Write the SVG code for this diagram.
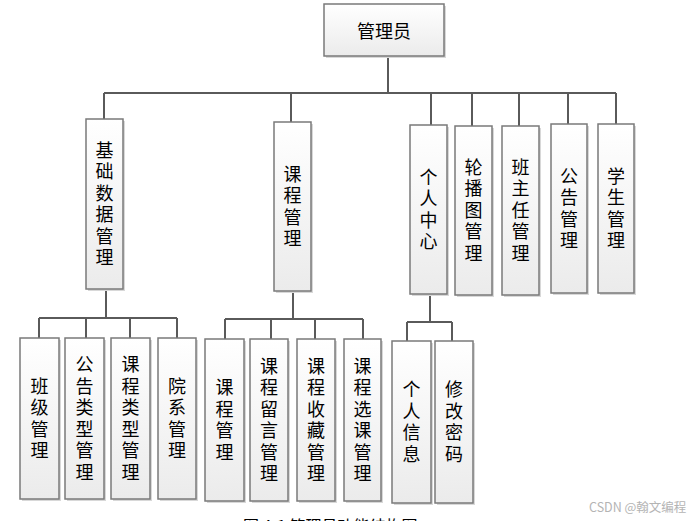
<svg xmlns="http://www.w3.org/2000/svg" width="692" height="521" viewBox="0 0 692 521">
<defs>
<linearGradient id="g" x1="0" y1="0" x2="0" y2="1">
<stop offset="0" stop-color="#ffffff"/>
<stop offset="1" stop-color="#ebebeb"/>
</linearGradient>
</defs>
<style>
.box{fill:url(#g);stroke:#7a7a7a;stroke-width:1.5}
.sh{fill:#d8d8d8}
.t{font-family:"Noto Sans CJK SC","Noto Sans CJK JP",sans-serif;font-size:18px;fill:#000;text-anchor:middle;dominant-baseline:central}
.v{font-family:"Noto Sans CJK SC","Noto Sans CJK JP",sans-serif;font-size:18px;fill:#000;text-anchor:middle;writing-mode:vertical-rl;letter-spacing:3.5px}
.c{fill:none;stroke:#5a5a5a;stroke-width:2}
</style>
<rect width="692" height="521" fill="#ffffff"/>
<g id="connectors">
<path class="c" d="M388 56V93M104 93H616M104 93V119M291 93V122M431 93V125M472 93V126M519 93V126M568 93V124M616 93V124"/>
<path class="c" d="M106 289V318M39 318H177M39 318V338M86 318V338M130 318V338M177 318V338"/>
<path class="c" d="M293 291V319M225 319H363M225 319V339M271 319V339M315 319V339M363 319V339"/>
<path class="c" d="M430 294V322M407 322H452M407 322V341M452 322V341"/>
</g>
<g id="admin"><rect class="sh" x="326" y="6" width="120" height="52"/><rect class="box" x="324" y="4" width="120" height="52"/><text class="t" x="384" y="30">管理员</text></g>
<g id="jcsj"><rect class="sh" x="88" y="121" width="37" height="170"/><rect class="box" x="86" y="119" width="37" height="170"/><text class="v" x="104.5" y="205.5">基础数据管理</text></g>
<g id="kcgl"><rect class="sh" x="276" y="124" width="37" height="169"/><rect class="box" x="274" y="122" width="37" height="169"/><text class="v" x="292.5" y="208">课程管理</text></g>
<g id="grzx"><rect class="sh" x="412" y="127" width="37" height="169"/><rect class="box" x="410" y="125" width="37" height="169"/><text class="v" x="428.5" y="211">个人中心</text></g>
<g id="lbt"><rect class="sh" x="457" y="128" width="37" height="169"/><rect class="box" x="455" y="126" width="37" height="169"/><text class="v" x="473.5" y="211.5">轮播图管理</text></g>
<g id="bzr"><rect class="sh" x="504" y="128" width="37" height="169"/><rect class="box" x="502" y="126" width="37" height="169"/><text class="v" x="520.5" y="211.5">班主任管理</text></g>
<g id="gggl"><rect class="sh" x="553" y="126" width="36" height="169"/><rect class="box" x="551" y="124" width="36" height="169"/><text class="v" x="569" y="210">公告管理</text></g>
<g id="xsgl"><rect class="sh" x="600" y="126" width="36" height="169"/><rect class="box" x="598" y="124" width="36" height="169"/><text class="v" x="616" y="210">学生管理</text></g>
<g id="bjgl"><rect class="sh" x="22" y="340" width="39" height="161"/><rect class="box" x="20" y="338" width="39" height="161"/><text class="v" x="39.5" y="420">班级管理</text></g>
<g id="gglx"><rect class="sh" x="67" y="340" width="39" height="161"/><rect class="box" x="65" y="338" width="39" height="161"/><text class="v" x="84.5" y="420">公告类型管理</text></g>
<g id="kclx"><rect class="sh" x="113" y="340" width="39" height="161"/><rect class="box" x="111" y="338" width="39" height="161"/><text class="v" x="130.5" y="420">课程类型管理</text></g>
<g id="yxgl"><rect class="sh" x="160" y="340" width="38" height="161"/><rect class="box" x="158" y="338" width="38" height="161"/><text class="v" x="177" y="420">院系管理</text></g>
<g id="kcgl2"><rect class="sh" x="207" y="341" width="39" height="162"/><rect class="box" x="205" y="339" width="39" height="162"/><text class="v" x="224.5" y="421.5">课程管理</text></g>
<g id="kcly"><rect class="sh" x="252" y="341" width="38" height="162"/><rect class="box" x="250" y="339" width="38" height="162"/><text class="v" x="269" y="421.5">课程留言管理</text></g>
<g id="kcsc"><rect class="sh" x="299" y="341" width="38" height="162"/><rect class="box" x="297" y="339" width="38" height="162"/><text class="v" x="316" y="421.5">课程收藏管理</text></g>
<g id="kcxk"><rect class="sh" x="346" y="341" width="37" height="162"/><rect class="box" x="344" y="339" width="37" height="162"/><text class="v" x="362.5" y="421.5">课程选课管理</text></g>
<g id="grxx"><rect class="sh" x="394" y="343" width="39" height="162"/><rect class="box" x="392" y="341" width="39" height="162"/><text class="v" x="411.5" y="423.5">个人信息</text></g>
<g id="xgmm"><rect class="sh" x="437" y="343" width="38" height="162"/><rect class="box" x="435" y="341" width="38" height="162"/><text class="v" x="454" y="423.5">修改密码</text></g>
<text x="243" y="532" font-family="Noto Sans CJK SC, sans-serif" font-size="16" fill="#000">图 4-1 管理员功能结构图</text>
<text x="589" y="512" font-family="Noto Sans CJK SC, sans-serif" font-size="12.5" fill="#b4b4b4">CSDN @翰文编程</text>
</svg>
